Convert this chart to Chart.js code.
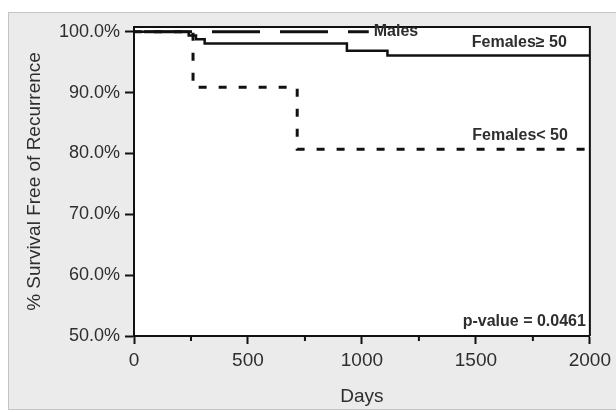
<!DOCTYPE html>
<html>
<head>
    <title>Survival Free of Recurrence</title>
    <script src="https://cdn.jsdelivr.net/npm/chart.js"></script>
    <style>
        body { margin: 0; background: #fff; font-family: "Liberation Sans", Arial, sans-serif; }
        .panel {
            position: absolute; left: 8px; top: 12px; width: 640px; height: 396px;
            background: #ebebeb; border: 1px solid #c4c4c4;
        }
        .wrap { position: absolute; left: 0; top: 0; width: 616px; height: 412px; }
    </style>
</head>
<body>
    <div class="panel"></div>
    <div class="wrap"><canvas id="kmChart" width="616" height="412"></canvas></div>

    <script>
        // Kaplan-Meier steps (days, % survival)
        const malesDays = [0, 1030];
        const malesSurv = [100, 100];

        const femOldDays = [0, 240, 272, 310, 934, 1112, 2000];
        const femOldSurv = [100, 99.4, 98.8, 98.1, 96.9, 96.1, 96.1];

        const femYoungDays = [0, 259, 716, 2000];
        const femYoungSurv = [100, 90.9, 80.7, 80.7];

        const yTicks = [50, 60, 70, 80, 90, 100];
        const xTicks = [0, 500, 1000, 1500, 2000];
        const xMinorTicks = [250, 750, 1250, 1750];

        const toPoints = (xs, ys) => xs.map((x, i) => ({ x: x, y: ys[i] }));

        const ink = '#111';
        const textCol = '#2e2e2e';
        const fontFam = '"Liberation Sans", Arial, sans-serif';

        // white plot area, box outline, minor ticks and annotations
        const decor = {
            id: 'decor',
            beforeDraw(chart) {
                const { ctx, chartArea: a } = chart;
                ctx.save();
                ctx.fillStyle = '#fff';
                ctx.fillRect(a.left, a.top, a.right - a.left, a.bottom - a.top);
                ctx.restore();
            },
            afterDraw(chart) {
                const { ctx, chartArea: a, scales } = chart;
                ctx.save();
                ctx.strokeStyle = ink;
                ctx.lineWidth = 2;
                ctx.beginPath();
                ctx.moveTo(a.left, a.top);
                ctx.lineTo(a.right, a.top);
                ctx.lineTo(a.right, a.bottom);
                ctx.stroke();

                xMinorTicks.forEach(v => {
                    const px = scales.x.getPixelForValue(v);
                    ctx.beginPath();
                    ctx.moveTo(px, a.bottom);
                    ctx.lineTo(px, a.bottom + 5);
                    ctx.stroke();
                });

                ctx.fillStyle = textCol;
                ctx.font = 'bold 16px ' + fontFam;
                ctx.textBaseline = 'middle';
                ctx.textAlign = 'left';
                ctx.fillText('Males', scales.x.getPixelForValue(1052), scales.y.getPixelForValue(100));
                ctx.textAlign = 'right';
                ctx.fillText('Females\u2265 50', a.right - 23, scales.y.getPixelForValue(98.3));
                ctx.fillText('Females< 50', a.right - 22, scales.y.getPixelForValue(82.9));
                ctx.fillText('p-value = 0.0461', a.right - 4, scales.y.getPixelForValue(52.3));
                ctx.restore();
            }
        };

        new Chart(document.getElementById('kmChart'), {
            type: 'line',
            data: {
                datasets: [
                    {
                        label: 'Males',
                        data: toPoints(malesDays, malesSurv),
                        borderColor: ink,
                        borderWidth: 3,
                        borderDash: [48, 20],
                        borderDashOffset: 58,
                        stepped: 'before',
                        pointRadius: 0
                    },
                    {
                        label: 'Females \u2265 50',
                        data: toPoints(femOldDays, femOldSurv),
                        borderColor: ink,
                        borderWidth: 2.5,
                        stepped: 'before',
                        pointRadius: 0
                    },
                    {
                        label: 'Females < 50',
                        data: toPoints(femYoungDays, femYoungSurv),
                        borderColor: ink,
                        borderWidth: 3,
                        borderDash: [8, 12],
                        stepped: 'before',
                        pointRadius: 0
                    }
                ]
            },
            options: {
                responsive: false,
                animation: false,
                layout: { padding: { left: 0, right: 18, top: 27, bottom: 0 } },
                plugins: { legend: { display: false }, tooltip: { enabled: false } },
                scales: {
                    x: {
                        type: 'linear',
                        min: 0,
                        max: 2000,
                        afterBuildTicks: s => { s.ticks = xTicks.map(v => ({ value: v })); },
                        afterFit: s => { s.height = 76; },
                        border: { color: ink, width: 2 },
                        grid: { drawOnChartArea: false, tickLength: 8, tickColor: ink, tickWidth: 2 },
                        ticks: {
                            color: textCol,
                            font: { size: 19, family: fontFam },
                            padding: 5,
                            maxRotation: 0,
                            callback: v => String(v)
                        },
                        title: { display: true, text: 'Days', color: textCol, font: { size: 19, family: fontFam }, padding: { top: 0 } }
                    },
                    y: {
                        min: 50,
                        max: 100.8,
                        afterBuildTicks: s => { s.ticks = yTicks.map(v => ({ value: v })); },
                        afterFit: s => { s.width = 134; },
                        border: { color: ink, width: 2 },
                        grid: { drawOnChartArea: false, tickLength: 9, tickColor: ink, tickWidth: 2 },
                        ticks: {
                            color: textCol,
                            font: { size: 18, family: fontFam },
                            padding: 5,
                            callback: v => v.toFixed(1) + '%'
                        },
                        title: {
                            display: true,
                            text: '% Survival Free of Recurrence',
                            color: textCol,
                            font: { size: 19, family: fontFam },
                            padding: { top: 23 }
                        }
                    }
                }
            },
            plugins: [decor]
        });
    </script>
</body>
</html>
